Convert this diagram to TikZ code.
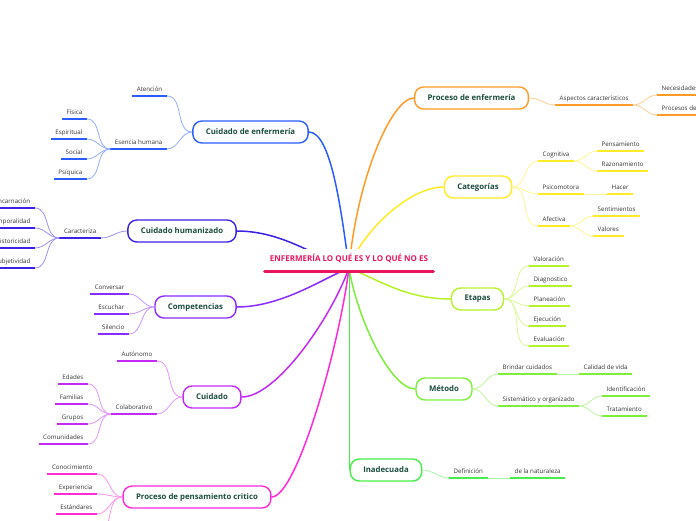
\documentclass[tikz,border=0pt]{standalone}
\usepackage{fontspec}
\setmainfont{Open Sans}
\usetikzlibrary{positioning}
\definecolor{cBlueA}{HTML}{2A5CFF}
\definecolor{cBlueB}{HTML}{3A22E6}
\definecolor{cPurp}{HTML}{8B2BFF}
\definecolor{cViol}{HTML}{C32BF5}
\definecolor{cMag}{HTML}{FF2BD9}
\definecolor{cOran}{HTML}{FF9B26}
\definecolor{cYell}{HTML}{FFEB26}
\definecolor{cLime}{HTML}{B5F229}
\definecolor{cGreen}{HTML}{7DEE3A}
\definecolor{cGreenB}{HTML}{47EE47}
\definecolor{cTitle}{HTML}{E8175D}
\definecolor{cText}{HTML}{1B4D3E}
\definecolor{cLeaf}{HTML}{333333}
\begin{document}
\begin{tikzpicture}[
        x=1pt, y=-1pt,
        topic/.style={draw=#1, fill=white, line width=1.4pt, rounded corners=9pt,
            minimum height=22pt, inner xsep=13pt, text=cText,
            font=\fontsize{7.8}{9}\selectfont\bfseries},
        leaf/.style={font=\fontsize{6.2}{7}\selectfont, text=cLeaf,
            inner xsep=4.5pt, inner ysep=3.5pt, text height=4.5pt, text depth=1.2pt,
            append after command={(\tikzlastnode.south west) edge[draw=#1, line width=2pt] (\tikzlastnode.south east)}},
        leafl/.style={leaf=#1, anchor=south east},
        leafr/.style={leaf=#1, anchor=south west},
        branch/.style={draw=#1, line width=1.5pt},
        twig/.style={draw=#1!50, line width=0.8pt},
        tol/.style={twig=#1, out=180, in=0},
        tor/.style={twig=#1, out=0, in=180},
    ]
    \useasboundingbox (0,0) rectangle (696,520);
    \clip (0,0) rectangle (696,520);
    \coordinate (root) at (349,268);

    % main topics
    \node[topic=cBlueA] (cde) at (250.5,132) {Cuidado de enfermería};
    \node[topic=cBlueB] (chum) at (182,231) {Cuidado humanizado};
    \node[topic=cPurp] (comp) at (195.5,307) {Competencias};
    \node[topic=cViol] (cuid) at (212,397) {Cuidado};
    \node[topic=cMag] (ppc) at (197,497) {Proceso de pensamiento critico};
    \node[topic=cOran] (pde) at (471.5,98) {Proceso de enfermería};
    \node[topic=cYell] (cate) at (478,187) {Categorías};
    \node[topic=cLime] (etap) at (477.5,299) {Etapas};
    \node[topic=cGreen] (meto) at (444,389) {Método};
    \node[topic=cGreenB] (inad) at (386,470) {Inadecuada};

    % left leaves
    \node[leafl=cBlueA] (aten) at (167,96) {Atención};
    \node[leafl=cBlueA] (esen) at (167,149) {Esencia humana};
    \node[leafl=cBlueA] (fisi) at (87,119) {Física};
    \node[leafl=cBlueA] (espi) at (87,139) {Espiritual};
    \node[leafl=cBlueA] (soci) at (87,159) {Social};
    \node[leafl=cBlueA] (psiq) at (87,179) {Psíquica};

    \node[leafl=cBlueB] (cara) at (101,238) {Caracteriza};
    \node[leafl=cBlueB] (enca) at (35,208) {Encarnación};
    \node[leafl=cBlueB] (temp) at (35,228) {Temporalidad};
    \node[leafl=cBlueB] (hist) at (35,248) {Historicidad};
    \node[leafl=cBlueB] (subj) at (35,268) {Subjetividad};

    \node[leafl=cPurp] (conv) at (129,294) {Conversar};
    \node[leafl=cPurp] (escu) at (129,314) {Escuchar};
    \node[leafl=cPurp] (sile) at (129,334) {Silencio};

    \node[leafl=cViol] (auto) at (157,361) {Autónomo};
    \node[leafl=cViol] (cola) at (157,414) {Colaborativo};
    \node[leafl=cViol] (edad) at (88,384) {Edades};
    \node[leafl=cViol] (fami) at (88,404) {Familias};
    \node[leafl=cViol] (grup) at (88,424) {Grupos};
    \node[leafl=cViol] (comu) at (88,444) {Comunidades};

    \node[leafl=cMag] (cono) at (97,474) {Conocimiento};
    \node[leafl=cMag] (expe) at (97,494) {Experiencia};
    \node[leafl=cMag] (esta) at (97,514) {Estándares};
    \coordinate (ppcd) at (97,534);

    % right leaves
    \node[leafr=cOran] (aspe) at (555,105) {Aspectos característicos};
    \node[leafr=cOran] (nece) at (657,95) {Necesidades};
    \node[leafr=cOran] (proc) at (657,115) {Procesos de};

    \node[leafr=cYell] (cogn) at (538,161) {Cognitiva};
    \node[leafr=cYell] (psic) at (538,194) {Psicomotora};
    \node[leafr=cYell] (afec) at (538,226) {Afectiva};
    \node[leafr=cYell] (pens) at (597,151) {Pensamiento};
    \node[leafr=cYell] (razo) at (597,171) {Razonamiento};
    \node[leafr=cYell] (hace) at (607,194) {Hacer};
    \node[leafr=cYell] (sent) at (593,216) {Sentimientos};
    \node[leafr=cYell] (valo) at (593,236) {Valores};

    \node[leafr=cLime] (valr) at (529,266) {Valoración};
    \node[leafr=cLime] (diag) at (529,286) {Diagnostico};
    \node[leafr=cLime] (plan) at (529,306) {Planeación};
    \node[leafr=cLime] (ejec) at (529,326) {Ejecución};
    \node[leafr=cLime] (eval) at (529,346) {Evaluación};

    \node[leafr=cGreen] (brin) at (498,374) {Brindar cuidados};
    \node[leafr=cGreen] (cali) at (579,374) {Calidad de vida};
    \node[leafr=cGreen] (sist) at (498,406) {Sistemático y organizado};
    \node[leafr=cGreen] (iden) at (602,396) {Identificación};
    \node[leafr=cGreen] (trat) at (602,416) {Tratamiento};

    \node[leafr=cGreenB] (defi) at (449,478) {Definición};
    \node[leafr=cGreenB] (natu) at (510,478) {de la naturaleza};

    % twigs
    \draw (cde.west) edge[tol=cBlueA] (aten.south east) edge[tol=cBlueA] (esen.south east);
    \draw (esen.south west) edge[tol=cBlueA] (fisi.south east) edge[tol=cBlueA] (espi.south east)
        edge[tol=cBlueA] (soci.south east) edge[tol=cBlueA] (psiq.south east);
    \draw (chum.west) edge[tol=cBlueB] (cara.south east);
    \draw (cara.south west) edge[tol=cBlueB] (enca.south east) edge[tol=cBlueB] (temp.south east)
        edge[tol=cBlueB] (hist.south east) edge[tol=cBlueB] (subj.south east);
    \draw (comp.west) edge[tol=cPurp] (conv.south east) edge[tol=cPurp] (escu.south east)
        edge[tol=cPurp] (sile.south east);
    \draw (cuid.west) edge[tol=cViol] (auto.south east) edge[tol=cViol] (cola.south east);
    \draw (cola.south west) edge[tol=cViol] (edad.south east) edge[tol=cViol] (fami.south east)
        edge[tol=cViol] (grup.south east) edge[tol=cViol] (comu.south east);
    \draw (ppc.west) edge[tol=cMag] (cono.south east) edge[tol=cMag] (expe.south east)
        edge[tol=cMag] (esta.south east) edge[tol=cMag] (ppcd);

    \draw (pde.east) edge[tor=cOran] (aspe.south west);
    \draw (aspe.south east) edge[tor=cOran] (nece.south west) edge[tor=cOran] (proc.south west);
    \draw (cate.east) edge[tor=cYell] (cogn.south west) edge[tor=cYell] (psic.south west)
        edge[tor=cYell] (afec.south west);
    \draw (cogn.south east) edge[tor=cYell] (pens.south west) edge[tor=cYell] (razo.south west);
    \draw[twig=cYell] (psic.south east) -- (hace.south west);
    \draw (afec.south east) edge[tor=cYell] (sent.south west) edge[tor=cYell] (valo.south west);
    \draw (etap.east) edge[tor=cLime] (valr.south west) edge[tor=cLime] (diag.south west)
        edge[tor=cLime] (plan.south west) edge[tor=cLime] (ejec.south west)
        edge[tor=cLime] (eval.south west);
    \draw (meto.east) edge[tor=cGreen] (brin.south west) edge[tor=cGreen] (sist.south west);
    \draw[twig=cGreen] (brin.south east) -- (cali.south west);
    \draw (sist.south east) edge[tor=cGreen] (iden.south west) edge[tor=cGreen] (trat.south west);
    \draw (inad.east) edge[tor=cGreenB] (defi.south west);
    \draw[twig=cGreenB] (defi.south east) -- (natu.south west);

    % branches to the centre
    \draw[branch=cBlueA] (cde.east) .. controls +(22,0) and +(-8,-60) .. (root);
    \draw[branch=cBlueB] (chum.east) .. controls +(45,0) and +(-35,-12) .. (root);
    \draw[branch=cPurp] (comp.east) .. controls +(45,0) and +(-25,10) .. (root);
    \draw[branch=cViol] (cuid.east) .. controls +(35,0) and +(-18,50) .. (root);
    \draw[branch=cMag] (ppc.east) .. controls +(25,0) and +(-10,80) .. (root);
    \draw[branch=cOran] (pde.west) .. controls +(-22,0) and +(8,-90) .. (root);
    \draw[branch=cYell] (cate.west) .. controls +(-35,0) and +(12,-35) .. (root);
    \draw[branch=cLime] (etap.west) .. controls +(-45,0) and +(30,12) .. (root);
    \draw[branch=cGreen] (meto.west) .. controls +(-25,0) and +(8,50) .. (root);
    \draw[branch=cGreenB] (inad.west |- root) -- (inad.west);

    \node[fill=white, anchor=south, minimum width=168pt, inner xsep=0pt, inner ysep=9.5pt,
        text height=3.5pt, text depth=0pt, text=cTitle, font=\fontsize{8}{9}\selectfont\bfseries,
        append after command={(\tikzlastnode.south west) edge[draw=cTitle, line width=3.7pt, line cap=round] (\tikzlastnode.south east)}]
        (title) at (349,271.5) {ENFERMERÍA LO QUÉ ES Y LO QUÉ NO ES};
\end{tikzpicture}
\end{document}
